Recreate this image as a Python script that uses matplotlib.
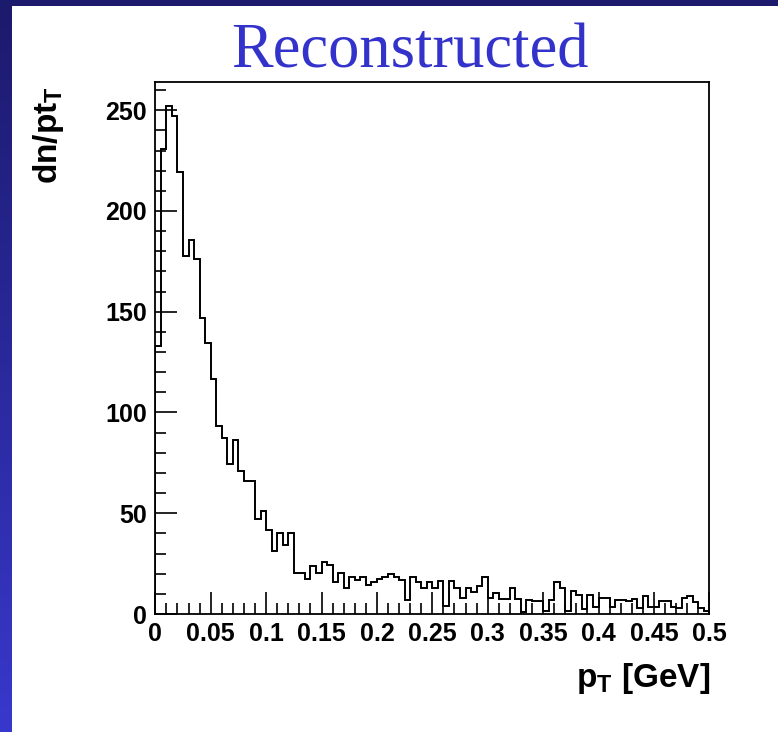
import numpy as np
import matplotlib

matplotlib.use("Agg")
import matplotlib.pyplot as plt
from matplotlib.ticker import MultipleLocator

# histogram contents, 100 bins of 0.005 GeV from 0 to 0.5
counts = [
    133, 231, 252, 247, 219.5, 177.5, 185.7, 176, 146.7, 134.6,
    116.5, 93.3, 87.2, 74.5, 86.5, 71, 66, 66, 47, 51,
    41.7, 31.3, 40, 34.2, 40, 20.2, 20.2, 17.2, 23.8, 20.2,
    26, 24.3, 16, 20.2, 12.7, 18.2, 16.9, 18.5, 14.4, 16,
    17.2, 18.5, 19.9, 18.5, 16.9, 6.9, 18.2, 16, 12.7, 16,
    12.7, 16.5, 4, 16.5, 12.7, 7.8, 12.7, 11.1, 13.9, 18.2,
    7.8, 10.6, 7.3, 7.3, 12.7, 7.3, 1.2, 6.9, 6.5, 6.5,
    1.5, 7, 16, 12.7, 1.5, 11.5, 9.5, 2.5, 9.5, 3.5,
    8, 8, 3.5, 7, 7, 6.5, 7.5, 3, 9, 3.5,
    3.5, 6.5, 6.5, 3.5, 3, 8, 9, 6, 3, 1.5,
]
bin_edges = np.linspace(0.0, 0.5, len(counts) + 1)
x_ticks = [0, 0.05, 0.1, 0.15, 0.2, 0.25, 0.3, 0.35, 0.4, 0.45, 0.5]
x_tick_labels = ["0", "0.05", "0.1", "0.15", "0.2", "0.25", "0.3", "0.35", "0.4", "0.45", "0.5"]
y_ticks = [0, 50, 100, 150, 200, 250]

plt.rcParams["mathtext.fontset"] = "custom"
plt.rcParams["mathtext.rm"] = "Liberation Sans:bold"
plt.rcParams["mathtext.bf"] = "Liberation Sans:bold"
plt.rcParams["mathtext.it"] = "Liberation Sans:bold"

W, H = 778, 732
fig = plt.figure(figsize=(W / 100, H / 100), dpi=100)
fig.patch.set_facecolor("white")

# slide decoration: navy strip on top, blue gradient strip on the left
bg = fig.add_axes([0, 0, 1, 1], zorder=-10)
bg.set_axis_off()
bg.set_xlim(0, W)
bg.set_ylim(H, 0)
grad = np.linspace(0, 1, 256)[:, None]
cols = np.array([0x1c, 0x1a, 0x6c]) / 255 * (1 - grad) + np.array([0x38, 0x38, 0xcc]) / 255 * grad
bg.imshow(cols[:, None, :].repeat(2, axis=1), extent=[0, 12, H, 0], aspect="auto")
bg.add_patch(plt.Rectangle((0, 0), W, 6, color="#1c1a6c", lw=0))

fig.text(410 / W, 1 - 68 / H, "Reconstructed", family="Liberation Serif",
         fontsize=45, color="#3333cc", ha="center", va="baseline")

ax = fig.add_axes([155.3 / W, 1 - 614 / H, 554 / W, 532 / H])
ax.stairs(counts, bin_edges, color="black", lw=1.4)
ax.set_xlim(0, 0.5)
ax.set_ylim(0, 264)
ax.set_xticks(x_ticks)
ax.set_xticklabels(x_tick_labels)
ax.set_yticks(y_ticks)
ax.xaxis.set_minor_locator(MultipleLocator(0.01))
ax.yaxis.set_minor_locator(MultipleLocator(10))
ax.tick_params(which="both", direction="in", top=False, right=False, width=1.2)
ax.tick_params(which="major", length=16)
ax.tick_params(which="minor", length=8)
ax.tick_params(axis="x", pad=6)
ax.tick_params(axis="y", pad=6)
for lab in ax.get_xticklabels() + ax.get_yticklabels():
    lab.set_fontweight("bold")
    lab.set_fontsize(18)
    lab.set_family("Liberation Sans")
for s in ax.spines.values():
    s.set_linewidth(1.3)

fig.text(48 / W, 1 - 86 / H, "dn/pt$_\\mathregular{T}$", rotation=90, ha="center", va="top",
         fontsize=24, fontweight="bold", family="Liberation Sans")
fig.text(710 / W, 1 - 678 / H, "p$_\\mathregular{T}$ [GeV]", ha="right", va="center",
         fontsize=24, fontweight="bold", family="Liberation Sans")

fig.savefig("out.png", dpi=100)
